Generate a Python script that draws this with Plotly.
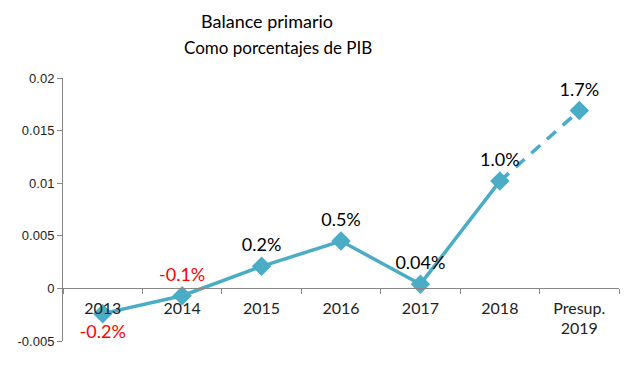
import plotly.graph_objects as go

categories = ["2013", "2014", "2015", "2016", "2017", "2018", "Presup.<br>2019"]
values = [-0.0024, -0.0007, 0.0021, 0.0045, 0.0004, 0.0102, 0.0169]
labels = ["-0.2%", "-0.1%", "0.2%", "0.5%", "0.04%", "1.0%", "1.7%"]
label_colors = ["#FF0000", "#FF0000", "#000000", "#000000", "#000000", "#000000", "#000000"]
label_pos = ["bottom center", "top center", "top center", "top center", "top center", "top center", "top center"]
ytickvals = [-0.005, 0, 0.005, 0.01, 0.015, 0.02]
yticktext = ["-0.005", "0", "0.005", "0.01", "0.015", "0.02"]

color = "#4BACC6"
OFF = 8  # page body margin
W, H = 629 - OFF, 365 - OFF
ml, mr, mt, mb = 59 - OFF, 10, 78 - OFF, 24
pw, ph = W - ml - mr, H - mt - mb
ymin, ymax = -0.005, 0.02
zero_pos = (0 - ymin) / (ymax - ymin)

fig = go.Figure()
fig.add_trace(go.Scatter(x=categories[:6], y=values[:6], mode="lines",
                         line=dict(color=color, width=3.5), hoverinfo="skip"))
fig.add_trace(go.Scatter(x=categories[5:], y=values[5:], mode="lines",
                         line=dict(color=color, width=3.5, dash="12px,9px"), hoverinfo="skip"))
fig.add_trace(go.Scatter(x=categories, y=values, mode="markers+text",
                         marker=dict(symbol="diamond", size=15, color=color),
                         text=labels, textposition=label_pos,
                         textfont=dict(family="Lato, sans-serif", size=18, color=label_colors),
                         cliponaxis=False))

fig.update_layout(
    width=W, height=H,
    margin=dict(l=ml, r=mr, t=mt, b=mb),
    paper_bgcolor="white", plot_bgcolor="white",
    showlegend=False,
    xaxis=dict(type="category", range=[-0.5, 6.5], anchor="free", position=zero_pos,
               showline=True, linecolor="#868686", linewidth=1,
               ticks="outside", tickson="boundaries", ticklen=5, tickcolor="#868686",
               ticklabelstandoff=5,
               showgrid=False, zeroline=False,
               tickfont=dict(family="Lato, sans-serif", size=16, color="#222222")),
    yaxis=dict(range=[ymin, ymax], tickvals=ytickvals, ticktext=yticktext,
               showline=True, linecolor="#868686", linewidth=1,
               ticks="outside", ticklen=5, tickcolor="#868686",
               showgrid=False, zeroline=False,
               tickfont=dict(family="Liberation Sans, Arial, sans-serif", size=13, color="#222222")),
    annotations=[
        dict(text="Balance primario", xref="paper", yref="paper",
             x=(264 - OFF - ml) / pw, y=1 + (mt - (21 - OFF)) / ph,
             xanchor="center", yanchor="middle", showarrow=False,
             font=dict(family="Lato, sans-serif", size=18, color="#000000")),
        dict(text="Como porcentajes de PIB", xref="paper", yref="paper",
             x=(276 - OFF - ml) / pw, y=1 + (mt - (48 - OFF)) / ph,
             xanchor="center", yanchor="middle", showarrow=False,
             font=dict(family="Lato, sans-serif", size=17, color="#000000")),
    ],
)

fig.write_html("out.html")
